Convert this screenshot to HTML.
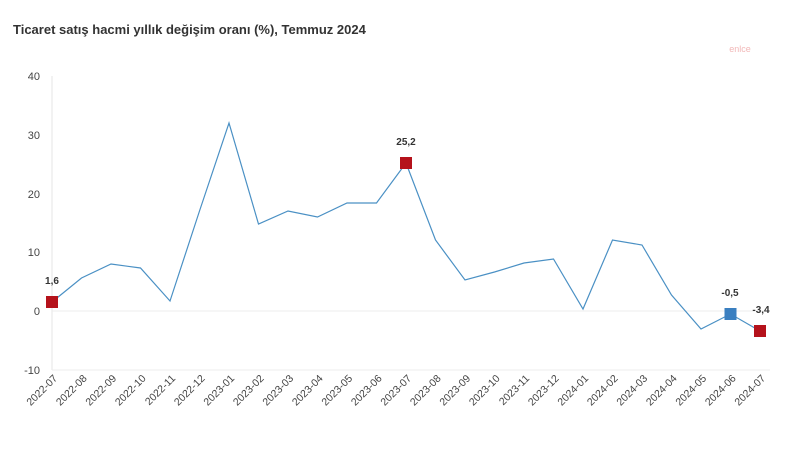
<!DOCTYPE html>
<html><head><meta charset="utf-8"><style>
body{margin:0;background:#fff;width:801px;height:450px;overflow:hidden}
svg{font-family:"Liberation Sans",sans-serif}
</style></head><body>
<svg width="801" height="450" xmlns="http://www.w3.org/2000/svg">
<text x="13" y="34" font-size="13" font-weight="bold" fill="#333">Ticaret satış hacmi yıllık değişim oranı (%), Temmuz 2024</text>
<text x="740" y="52" font-size="9" fill="#f2b8b8" text-anchor="middle">enlce</text>
<g font-size="11" fill="#444" text-anchor="end">
<text x="40" y="80">40</text><text x="40" y="139">30</text><text x="40" y="198">20</text>
<text x="40" y="256">10</text><text x="40" y="315">0</text><text x="40" y="374">-10</text>
</g>
<line x1="52" y1="76" x2="52" y2="370" stroke="#e6e6e6"/>
<line x1="52" y1="311" x2="770" y2="311" stroke="#ececec"/>
<line x1="52" y1="370" x2="770" y2="370" stroke="#ececec"/>
<polyline fill="none" stroke="#4a90c4" stroke-width="1.2" points="52,302 81.5,278 111,264 140.5,268 170,301 199.5,211 229,123 258.5,224 288,211 317.5,217 347,203 376.5,203 406,163 435.5,240 465,280 494.5,272 524,263 553.5,259 583,309 612.5,240 642,245 671.5,295 701,329 730.5,314 760,331"/>
<rect x="46" y="296" width="12" height="12" fill="#b5121b"/>
<rect x="400" y="157" width="12" height="12" fill="#b5121b"/>
<rect x="724.5" y="308" width="12" height="12" fill="#3a7fc0"/>
<rect x="754" y="325" width="12" height="12" fill="#b5121b"/>
<g font-size="10" font-weight="bold" fill="#333" text-anchor="middle">
<text x="52" y="284">1,6</text><text x="406" y="145">25,2</text>
<text x="730" y="296">-0,5</text><text x="761" y="313">-3,4</text>
</g>
<g font-size="10.5" fill="#444" text-anchor="end">
<text transform="translate(58,379) rotate(-45)">2022-07</text>
<text transform="translate(87.5,379) rotate(-45)">2022-08</text>
<text transform="translate(117,379) rotate(-45)">2022-09</text>
<text transform="translate(146.5,379) rotate(-45)">2022-10</text>
<text transform="translate(176,379) rotate(-45)">2022-11</text>
<text transform="translate(205.5,379) rotate(-45)">2022-12</text>
<text transform="translate(235,379) rotate(-45)">2023-01</text>
<text transform="translate(264.5,379) rotate(-45)">2023-02</text>
<text transform="translate(294,379) rotate(-45)">2023-03</text>
<text transform="translate(323.5,379) rotate(-45)">2023-04</text>
<text transform="translate(353,379) rotate(-45)">2023-05</text>
<text transform="translate(382.5,379) rotate(-45)">2023-06</text>
<text transform="translate(412,379) rotate(-45)">2023-07</text>
<text transform="translate(441.5,379) rotate(-45)">2023-08</text>
<text transform="translate(471,379) rotate(-45)">2023-09</text>
<text transform="translate(500.5,379) rotate(-45)">2023-10</text>
<text transform="translate(530,379) rotate(-45)">2023-11</text>
<text transform="translate(559.5,379) rotate(-45)">2023-12</text>
<text transform="translate(589,379) rotate(-45)">2024-01</text>
<text transform="translate(618.5,379) rotate(-45)">2024-02</text>
<text transform="translate(648,379) rotate(-45)">2024-03</text>
<text transform="translate(677.5,379) rotate(-45)">2024-04</text>
<text transform="translate(707,379) rotate(-45)">2024-05</text>
<text transform="translate(736.5,379) rotate(-45)">2024-06</text>
<text transform="translate(766,379) rotate(-45)">2024-07</text>
</g>
</svg>
</body></html>
